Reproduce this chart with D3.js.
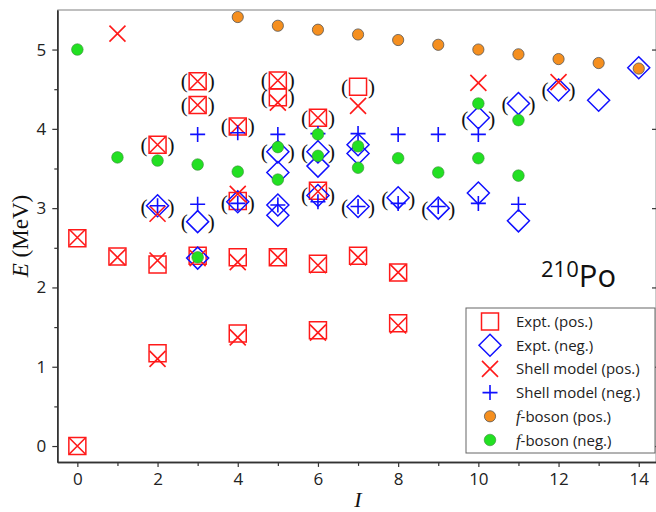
<!DOCTYPE html>
<html>
<head>
<meta charset="utf-8">
<script src="https://cdn.jsdelivr.net/npm/d3@7"></script>
<style>
  body { margin: 0; background: #fff; }
  .tick text { font-family: "Open Sans", sans-serif; font-size: 17px; fill: #222; }
</style>
</head>
<body>
<svg width="656" height="512"></svg>
<script>
// Data: [I, E (MeV)]
var exptPos = [[0,0.00],[0,2.62],[1,2.39],[2,1.17],[2,2.29],[2,3.80],[3,2.40],[3,4.30],[3,4.60],
  [4,1.42],[4,2.38],[4,3.09],[4,4.03],[5,2.38],[5,4.40],[5,4.61],[6,1.46],[6,2.30],[6,3.22],[6,4.14],
  [7,2.40],[7,4.53],[8,1.55],[8,2.19]];
var exptNeg = [[2,3.03],[3,2.37],[3,2.83],[4,3.08],[5,2.91],[5,3.04],[5,3.45],[5,3.71],[6,3.16],[6,3.53],[6,3.71],
  [7,3.02],[7,3.69],[7,3.80],[8,3.13],[9,3.00],[10,3.19],[10,4.14],[11,2.84],[11,4.32],[12,4.49],[13,4.36],[14,4.77]];
var shellPos = [[0,0.00],[0,2.63],[1,5.20],[1,2.38],[2,1.10],[2,2.34],[2,2.93],[2,3.80],[3,2.37],[3,4.30],[3,4.60],
  [4,1.37],[4,2.32],[4,3.18],[4,4.03],[5,2.38],[5,4.33],[5,4.61],[6,1.43],[6,2.28],[6,3.21],[6,4.14],
  [7,2.38],[7,4.29],[8,1.52],[8,2.19],[10,4.58],[12,4.59]];
var shellNeg = [[2,3.03],[3,3.05],[3,3.93],[4,3.06],[4,3.95],[5,3.04],[5,3.93],[6,3.08],[6,3.94],[7,3.02],[7,3.94],
  [8,3.06],[8,3.93],[9,3.02],[9,3.93],[10,3.06],[10,3.93],[11,3.05]];
var fbosPos = [[4,5.41],[5,5.30],[6,5.25],[7,5.19],[8,5.12],[9,5.06],[10,5.00],[11,4.94],[12,4.88],[13,4.83],[14,4.76]];
var fbosNeg = [[0,5.00],[1,3.64],[2,3.60],[3,2.38],[3,3.55],[4,3.46],[5,3.36],[5,3.77],[6,3.66],[6,3.93],[7,3.51],[7,3.78],
  [8,3.63],[9,3.45],[10,3.63],[10,4.32],[11,3.41],[11,4.11]];
// tentative assignments shown in parentheses
var tentative = [[2,3.80],[2,3.02],[3,4.60],[3,4.30],[3,2.83],[4,4.03],[4,3.07],[5,4.61],[5,4.40],[5,3.71],
  [6,4.14],[6,3.71],[6,3.16],[7,4.53],[7,3.01],[8,3.11],[9,2.99],[10,4.13],[11,4.31],[12,4.49]];
var xTicks = [0, 2, 4, 6, 8, 10, 12, 14];
var yTicks = [0, 1, 2, 3, 4, 5];
var legendLabels = ["Expt. (pos.)", "Expt. (neg.)", "Shell model (pos.)", "Shell model (neg.)", "-boson (pos.)", "-boson (neg.)"];

var svg = d3.select("svg");
var x = d3.scaleLinear().domain([-0.5, 14.5]).range([57.3, 658.8]);
var y = d3.scaleLinear().domain([-0.2, 5.5]).range([461.9, 9.9]);

// marker shapes
function square(s) { return "M" + (-s) + "," + (-s) + "h" + 2*s + "v" + 2*s + "h" + (-2*s) + "Z"; }
function diamond(s) { return "M0," + (-s) + "L" + s + ",0L0," + s + "L" + (-s) + ",0Z"; }
function cross(s) { return "M" + (-s) + "," + (-s) + "L" + s + "," + s + "M" + (-s) + "," + s + "L" + s + "," + (-s); }
function plus(s) { return "M" + (-s) + ",0H" + s + "M0," + (-s) + "V" + s; }

var red = "#ff1a1a", blue = "#1010ff", orange = "#f58f1f", green = "#22e022";
var styles = [
  { d: square(8.5), fill: "none", stroke: red, sw: 1.5 },
  { d: diamond(11), fill: "none", stroke: blue, sw: 1.5 },
  { d: cross(8), fill: "none", stroke: red, sw: 1.6 },
  { d: plus(7.5), fill: "none", stroke: blue, sw: 1.6 },
  { r: 5.6, fill: orange, stroke: "#555", sw: 0.8 },
  { r: 5.8, fill: green, stroke: "#3a8a3a", sw: 0.6 }
];

// axes frame
svg.append("line").attr("x1", 57.3).attr("x2", 656).attr("y1", 9.9).attr("y2", 9.9)
  .attr("stroke", "#aaa").attr("stroke-width", 1.5);

svg.append("g").attr("transform", "translate(0,461.9)")
  .call(d3.axisBottom(x).tickValues(xTicks).tickFormat(d3.format("d")).tickSize(5).tickPadding(6).tickSizeOuter(0));
svg.append("g").attr("transform", "translate(0,461.9)")
  .call(d3.axisBottom(x).tickValues(d3.range(1, 15, 2)).tickSize(4).tickFormat("").tickSizeOuter(0));
svg.append("g").attr("transform", "translate(57.3,0)")
  .call(d3.axisLeft(y).tickValues(yTicks).tickFormat(d3.format("d")).tickSize(5).tickPadding(6).tickSizeOuter(0));
svg.append("g").attr("transform", "translate(57.3,0)")
  .call(d3.axisLeft(y).tickValues([0.5, 1.5, 2.5, 3.5, 4.5]).tickSize(3).tickFormat("").tickSizeOuter(0));
svg.append("g").attr("transform", "translate(656,0)")
  .call(d3.axisRight(y).tickValues(yTicks).tickSize(-4).tickFormat("").tickSizeOuter(0));
svg.selectAll(".domain").attr("stroke", "#333").attr("stroke-width", 1.5);
svg.selectAll(".tick line").attr("stroke", "#333").attr("stroke-width", 1.2);

// parentheses
var paren = svg.append("g").attr("font-family", "'Liberation Serif', serif").attr("font-size", 21)
  .attr("fill", "#111").attr("text-anchor", "middle");
tentative.forEach(function (d) {
  paren.append("text").attr("x", x(d[0]) - 13.5).attr("y", y(d[1]) + 7).text("(");
  paren.append("text").attr("x", x(d[0]) + 13.5).attr("y", y(d[1]) + 7).text(")");
});

// markers
function drawSeries(data, st) {
  var g = svg.append("g");
  if (st.r) {
    g.selectAll("circle").data(data).enter().append("circle")
      .attr("cx", function (d) { return x(d[0]); })
      .attr("cy", function (d) { return y(d[1]); })
      .attr("r", st.r).attr("fill", st.fill).attr("stroke", st.stroke).attr("stroke-width", st.sw);
  } else {
    g.selectAll("path").data(data).enter().append("path")
      .attr("transform", function (d) { return "translate(" + x(d[0]) + "," + y(d[1]) + ")"; })
      .attr("d", st.d).attr("fill", st.fill).attr("stroke", st.stroke).attr("stroke-width", st.sw);
  }
}
[exptPos, exptNeg, shellPos, shellNeg, fbosPos, fbosNeg].forEach(function (s, i) { drawSeries(s, styles[i]); });

// axis titles
var yl = svg.append("text").attr("transform", "translate(28,236) rotate(-90)")
  .attr("text-anchor", "middle").attr("font-family", "'Liberation Serif', serif").attr("font-size", 23).attr("fill", "#111");
yl.append("tspan").attr("font-style", "italic").text("E");
yl.append("tspan").text(" (MeV)");
svg.append("text").attr("x", 358).attr("y", 507).attr("text-anchor", "middle")
  .attr("font-family", "'Liberation Serif', serif").attr("font-style", "italic").attr("font-size", 22)
  .attr("fill", "#111").text("I");

// nucleus label
var nuc = svg.append("text").attr("x", 541).attr("y", 287).attr("font-family", "'Open Sans', sans-serif").attr("fill", "#111");
nuc.append("tspan").attr("font-size", 22).attr("dy", -10).text("210");
nuc.append("tspan").attr("font-size", 31).attr("dy", 10).text("Po");

// legend
var lg = svg.append("g");
lg.append("rect").attr("x", 466).attr("y", 308).attr("width", 189).attr("height", 145)
  .attr("fill", "#fff").attr("stroke", "#666").attr("stroke-width", 1);
legendLabels.forEach(function (t, i) {
  var cy = 321.5 + i * 23.7, st = styles[i];
  if (st.r) {
    lg.append("circle").attr("cx", 490).attr("cy", cy).attr("r", st.r)
      .attr("fill", st.fill).attr("stroke", st.stroke).attr("stroke-width", st.sw);
  } else {
    lg.append("path").attr("transform", "translate(490," + cy + ")").attr("d", st.d)
      .attr("fill", st.fill).attr("stroke", st.stroke).attr("stroke-width", st.sw);
  }
  var tx = lg.append("text").attr("x", 516).attr("y", cy + 5.5)
    .attr("font-family", "'Open Sans', sans-serif").attr("font-size", 15).attr("fill", "#222");
  if (i >= 4) {
    tx.append("tspan").attr("font-family", "'Liberation Serif', serif").attr("font-style", "italic").attr("font-size", 16.5).text("f");
  }
  tx.append("tspan").text(t);
});
</script>
</body>
</html>
